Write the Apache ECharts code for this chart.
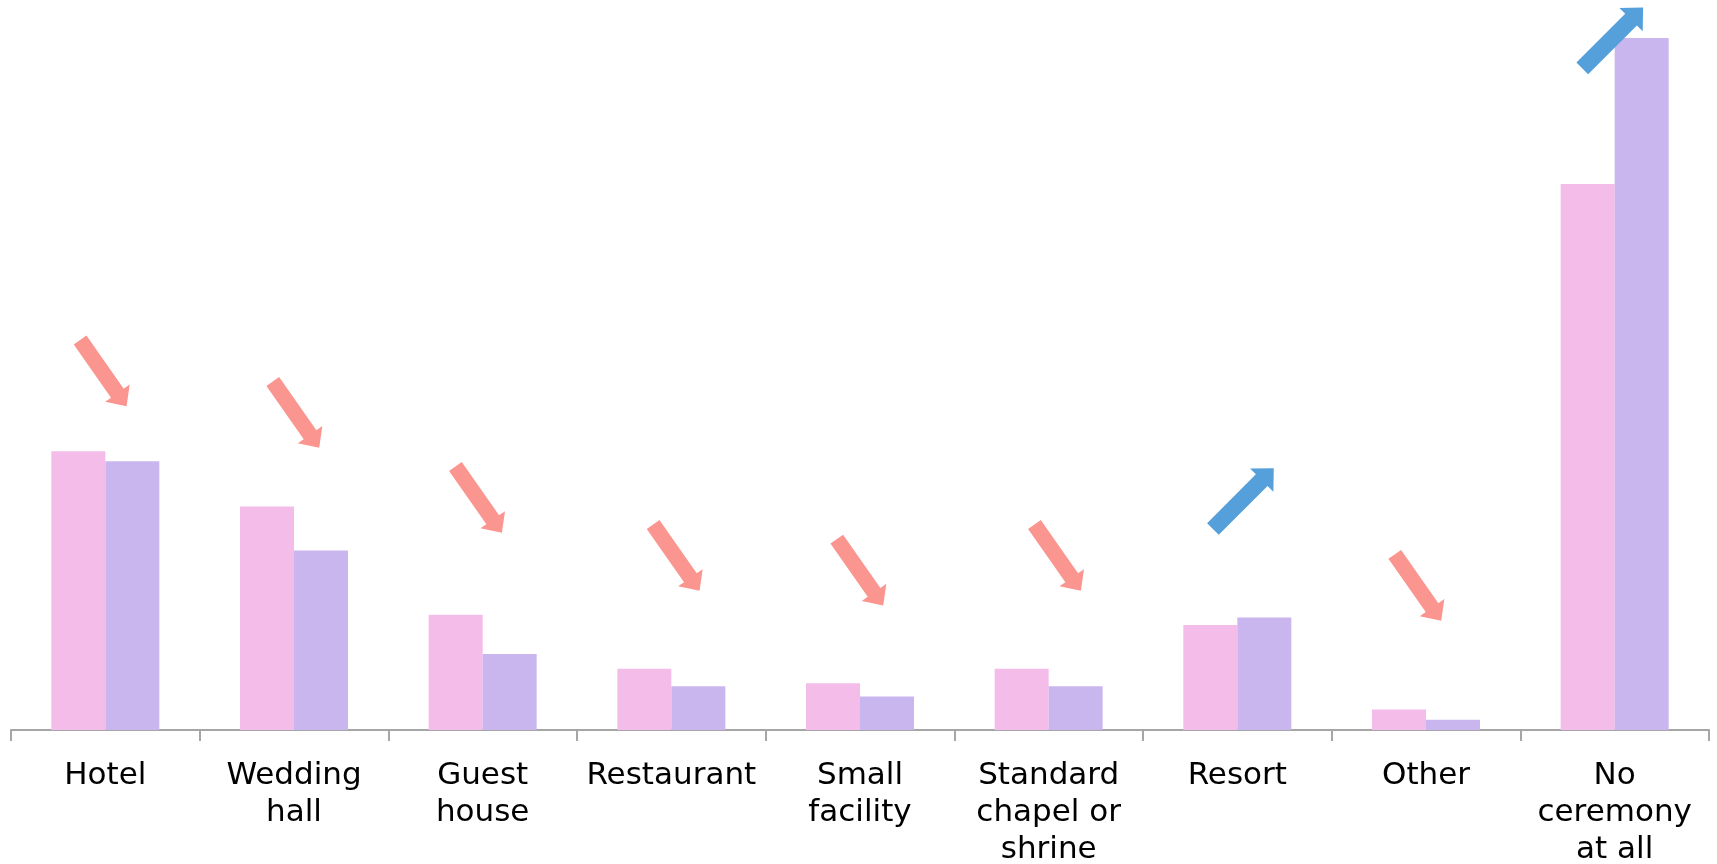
<!DOCTYPE html>
<html>
<head>
<meta charset="utf-8">
<title>Wedding ceremony venues</title>
<script src="https://cdn.jsdelivr.net/npm/echarts@6/dist/echarts.min.js"></script>
<style>
  html, body { margin: 0; padding: 0; background: #ffffff; }
  #chart { width: 1717px; height: 864px; }
</style>
</head>
<body>
<div id="chart"></div>
<script>
// Share of couples by ceremony venue (%), two survey waves
const categories = [
  'Hotel', 'Wedding\nhall', 'Guest\nhouse', 'Restaurant', 'Small\nfacility',
  'Standard\nchapel or\nshrine', 'Resort', 'Other', 'No\nceremony\nat all'
];
const earlierShare = [19.1, 15.3, 7.9, 4.2, 3.2, 4.2, 7.2, 1.4, 37.4];
const laterShare   = [18.4, 12.3, 5.2, 3.0, 2.3, 3.0, 7.7, 0.7, 47.4];

// Pixel nudges for the trend arrows, relative to the taller bar of each pair
const arrowNudge = [
  [-2, -78], [2, -92], [-4, -115], [5, -111], [0, -111],
  [9, -111], [6, -119], [-8, -122], [-2, 0]
];

const BAR_WIDTH = 54;
const DOWN_COLOR = '#FB958F';
const UP_COLOR = '#559FDB';

// Block arrow already turned to its screen angle, so the symbol is drawn 1:1
// len: total length, shaft/head: widths, tip: head length, deg: clockwise angle
function blockArrow(len, shaft, head, tip, deg) {
  const a = deg * Math.PI / 180, c = Math.cos(a), s = Math.sin(a);
  const hl = len / 2, base = hl - tip;
  const pts = [
    [-hl, -shaft / 2], [base, -shaft / 2], [base, -head / 2], [hl, 0],
    [base, head / 2], [base, shaft / 2], [-hl, shaft / 2]
  ].map(([x, y]) => [x * c - y * s, x * s + y * c]);
  const xs = pts.map(p => p[0]), ys = pts.map(p => p[1]);
  const minX = Math.min(...xs), maxX = Math.max(...xs);
  const minY = Math.min(...ys), maxY = Math.max(...ys);
  const d = pts.map((p, i) => (i ? 'L' : 'M') + (p[0] - minX).toFixed(2) + ',' + (p[1] - minY).toFixed(2)).join(' ') + ' Z';
  return {
    symbol: 'path://' + d,
    size: [maxX - minX, maxY - minY],
    // the symbol is centred on its box; move the box so the arrow's own centre lands on the anchor
    shift: [(minX + maxX) / 2, (minY + maxY) / 2]
  };
}

const DOWN_ARROW = blockArrow(81, 15.5, 30, 16, 55);
const UP_ARROW = blockArrow(86, 16.5, 33, 17, -45);

// markPoints of a bar series sit on that series' bar; shift them to the group centre
const arrowPoints = categories.map((c, i) => {
  const rising = laterShare[i] > earlierShare[i];
  const arrow = rising ? UP_ARROW : DOWN_ARROW;
  return {
    coord: [i, Math.max(earlierShare[i], laterShare[i])],
    symbol: arrow.symbol,
    symbolSize: arrow.size,
    symbolKeepAspect: false,
    symbolRotate: 0,
    symbolOffset: [
      arrowNudge[i][0] + BAR_WIDTH / 2 + arrow.shift[0],
      arrowNudge[i][1] + arrow.shift[1]
    ],
    itemStyle: { color: rising ? UP_COLOR : DOWN_COLOR }
  };
});

const chart = echarts.init(document.getElementById('chart'), null, { renderer: 'canvas' });

chart.setOption({
  animation: false,
  backgroundColor: '#ffffff',
  grid: { left: 11, right: 8, top: 0, bottom: 134, containLabel: false, outerBoundsMode: 'none' },
  xAxis: {
    type: 'category',
    data: categories,
    axisLine: { show: true, lineStyle: { color: '#A6A6A6', width: 2 } },
    axisTick: { show: true, length: 11, alignWithLabel: false, lineStyle: { color: '#A6A6A6', width: 2 } },
    axisLabel: {
      interval: 0,
      color: '#000000',
      fontFamily: 'DejaVu Sans',
      fontSize: 31,
      lineHeight: 37,
      margin: 27
    },
    splitLine: { show: false }
  },
  yAxis: {
    type: 'value',
    min: 0,
    max: 50,
    show: false,
    splitLine: { show: false }
  },
  series: [
    {
      name: 'Earlier wave',
      type: 'bar',
      data: earlierShare,
      barWidth: BAR_WIDTH,
      barGap: '0%',
      itemStyle: { color: '#F4BCE9' },
      markPoint: {
        silent: true,
        label: { show: false },
        data: arrowPoints
      }
    },
    {
      name: 'Later wave',
      type: 'bar',
      data: laterShare,
      barWidth: BAR_WIDTH,
      barGap: '0%',
      itemStyle: { color: '#C9B6EF' }
    }
  ]
});
</script>
</body>
</html>
